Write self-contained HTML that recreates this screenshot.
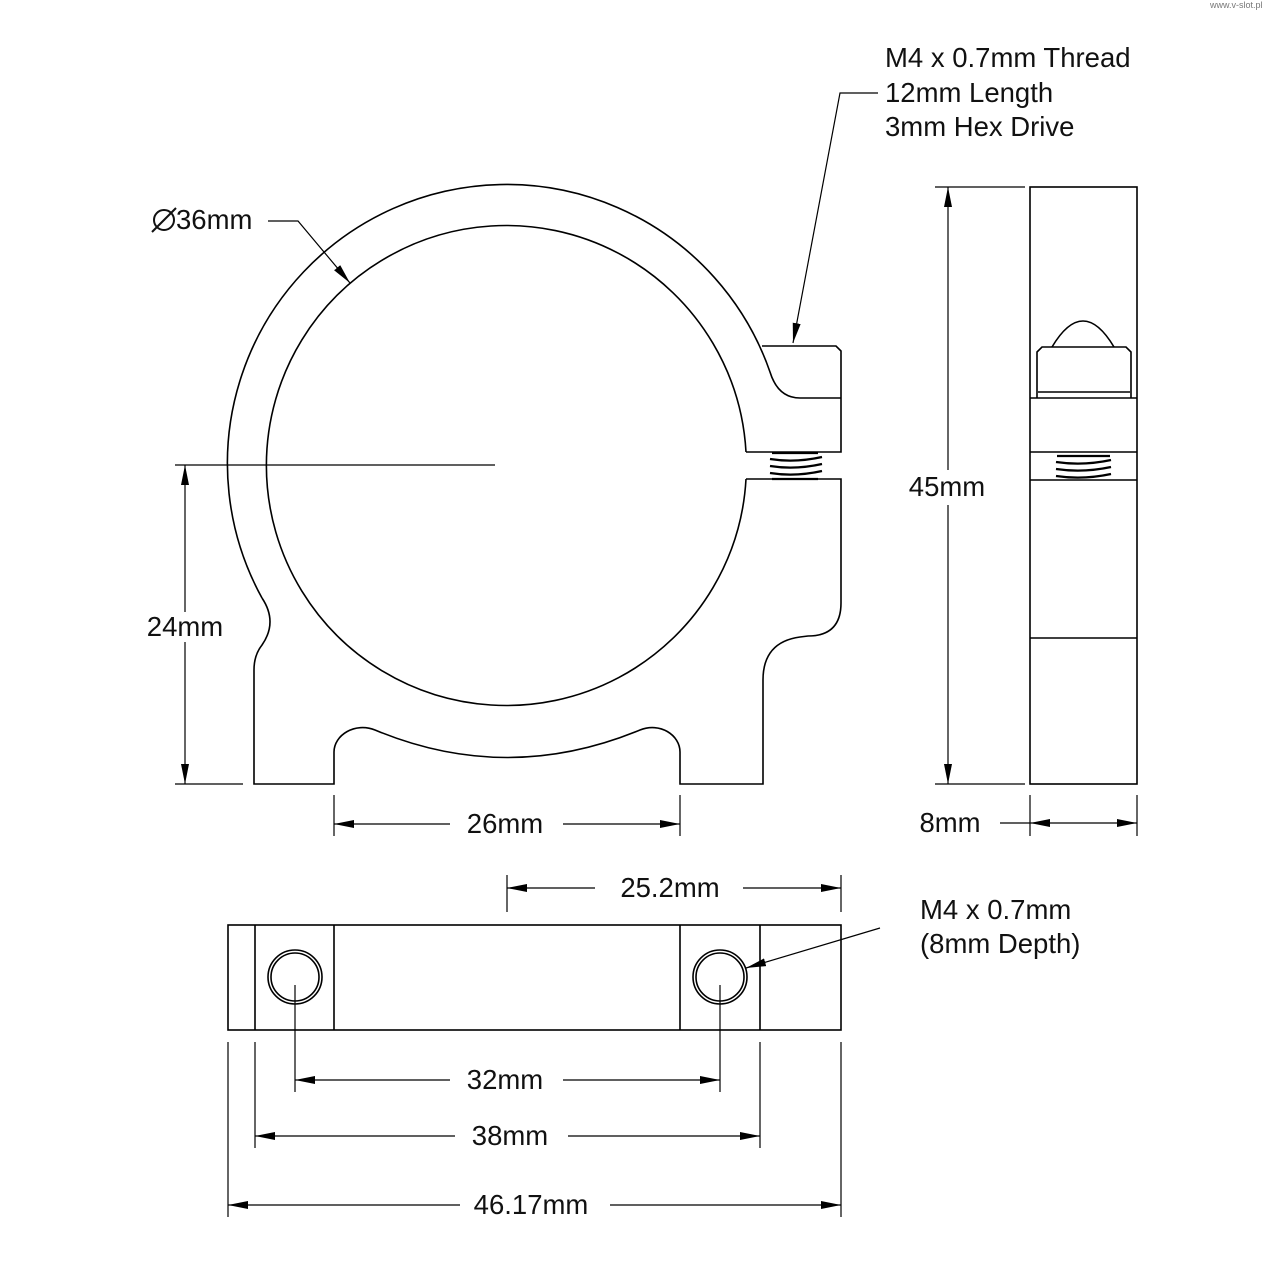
<!DOCTYPE html>
<html><head><meta charset="utf-8"><style>
html,body{margin:0;padding:0;background:#fff;}
svg{display:block;}
text{font-family:"Liberation Sans","DejaVu Sans",sans-serif;font-size:27.5px;fill:#111;}
.m{text-anchor:middle;}
</style></head><body>
<svg width="1280" height="1280" viewBox="0 0 1280 1280" xmlns="http://www.w3.org/2000/svg">
<defs>
<marker id="a" viewBox="0 0 20 8" refX="20" refY="4" markerWidth="20" markerHeight="8" markerUnits="userSpaceOnUse" orient="auto"><path d="M0,0 L20,4 L0,8 z" fill="#000"/></marker>
</defs>
<text x="1210" y="8" style="font-size:9px;fill:#777">www.v-slot.pl</text>
<g fill="none" stroke="#000" stroke-width="1.6">
<path d="M262,598 A279,279 0 1,1 770,372 Q778,398 800,398 L841,398"/>
<path d="M762,346 L836,346 L841,351 L841,452 L746,452"/>
<path d="M746,479 L841,479 L841,603 Q841,636 808,636 L800,637 Q763,642 763,680 L763,784 L680,784 L680,752 C680,735 660,722 640,730 Q507,785 375,730 C355,722 334,735 334,752 L334,784 L254,784 L254,670 Q254,655 262,645 Q278,622 262,598"/>
<path d="M746,479 A240,240 0 1,1 746,452"/>
<path d="M772,453 L818,453 M770,459 Q795,463 822,457 M770,466 Q795,470 822,464 M770,473 Q795,477 822,471 M772,479 L818,479" stroke-width="2.2"/>
<rect x="1030" y="187" width="107" height="597"/>
<path d="M1030,398 H1137 M1030,452 H1137 M1030,480 H1137 M1030,638 H1137"/>
<path d="M1037,398 L1037,352 L1042,347 L1126,347 L1131,352 L1131,398 M1038,392 H1130"/>
<path d="M1052,347 Q1083,295 1114,347"/>
<path d="M1057,456 H1110 M1056,462 Q1083,466 1111,460 M1056,469 Q1083,473 1111,467 M1056,476 Q1083,480 1111,474" stroke-width="2.2"/>
<rect x="228" y="925" width="613" height="105"/>
<path d="M255,925 V1030 M334,925 V1030 M680,925 V1030 M760,925 V1030"/>
<circle cx="295" cy="977" r="27"/><circle cx="295" cy="977" r="24"/>
<circle cx="720" cy="977" r="27"/><circle cx="720" cy="977" r="24"/>
</g>
<g fill="none" stroke="#000" stroke-width="1.2">
<path d="M175,465 H495"/>
<path d="M175,784 H243"/>
<path d="M185,612 V465" marker-end="url(#a)"/>
<path d="M185,642 V784" marker-end="url(#a)"/>
<path d="M334,795 V836 M680,795 V836"/>
<path d="M450,824 H334" marker-end="url(#a)"/>
<path d="M563,824 H680" marker-end="url(#a)"/>
<path d="M935,187 H1025 M935,784 H1025"/>
<path d="M948,470 V187" marker-end="url(#a)"/>
<path d="M948,505 V784" marker-end="url(#a)"/>
<path d="M1030,795 V836 M1137,795 V836"/>
<path d="M1000,823 H1030"/>
<path d="M1083,823 H1030" marker-end="url(#a)"/>
<path d="M1083,823 H1137" marker-end="url(#a)"/>
<path d="M268,221 H298 L350,283" marker-end="url(#a)"/>
<path d="M878,93 H840 L793,343" marker-end="url(#a)"/>
<path d="M507,875 V912 M841,875 V912"/>
<path d="M595,888 H507" marker-end="url(#a)"/>
<path d="M743,888 H841" marker-end="url(#a)"/>
<path d="M880,928 L746,968" marker-end="url(#a)"/>
<path d="M295,985 V1092 M720,985 V1092"/>
<path d="M450,1080 H295" marker-end="url(#a)"/>
<path d="M563,1080 H720" marker-end="url(#a)"/>
<path d="M255,1042 V1148 M760,1042 V1148"/>
<path d="M455,1136 H255" marker-end="url(#a)"/>
<path d="M568,1136 H760" marker-end="url(#a)"/>
<path d="M228,1042 V1217 M841,1042 V1217"/>
<path d="M460,1205 H228" marker-end="url(#a)"/>
<path d="M610,1205 H841" marker-end="url(#a)"/>
</g>
<g fill="none" stroke="#111" stroke-width="2"><circle cx="164" cy="220" r="10"/><path d="M152,232 L176,208"/></g>
<text x="885" y="67">M4 x 0.7mm Thread</text>
<text x="885" y="102">12mm Length</text>
<text x="885" y="136">3mm Hex Drive</text>
<text x="176" y="229">36mm</text>
<text class="m" x="185" y="636">24mm</text>
<text class="m" x="505" y="833">26mm</text>
<text class="m" x="947" y="496">45mm</text>
<text class="m" x="950" y="832">8mm</text>
<text class="m" x="670" y="897">25.2mm</text>
<text x="920" y="919">M4 x 0.7mm</text>
<text x="920" y="953">(8mm Depth)</text>
<text class="m" x="505" y="1089">32mm</text>
<text class="m" x="510" y="1145">38mm</text>
<text class="m" x="531" y="1214">46.17mm</text>
</svg>
</body></html>
